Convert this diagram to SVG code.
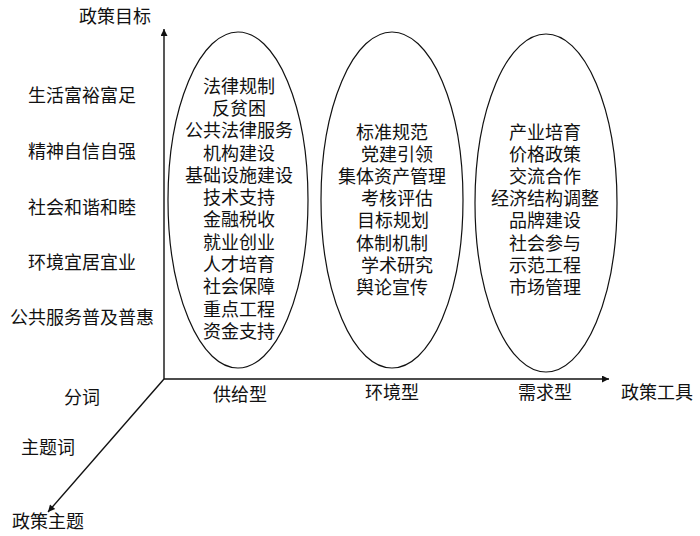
<svg xmlns="http://www.w3.org/2000/svg" width="700" height="536" viewBox="0 0 700 536">
<style>
text{font-family:"Liberation Serif","Noto Sans CJK SC",serif;font-size:18px;fill:#111;dominant-baseline:central}
.m{text-anchor:middle}
.s{text-anchor:start}
.ax{stroke:#111;stroke-width:1.4;fill:none}
.el{stroke:#111;stroke-width:1.2;fill:none}
</style>
<defs>
<marker id="ah" viewBox="0 0 10 10" refX="10" refY="5" markerWidth="9" markerHeight="7" markerUnits="userSpaceOnUse" orient="auto">
<path d="M0,0 L10,5 L0,10 z" fill="#111"/>
</marker>
</defs>
<rect width="700" height="536" fill="#fff"/>
<g id="axes">
<line class="ax" x1="164" y1="379" x2="164" y2="29" marker-end="url(#ah)"/>
<line class="ax" x1="164" y1="379" x2="609" y2="379" marker-end="url(#ah)"/>
<line class="ax" x1="164" y1="379" x2="48" y2="512" marker-end="url(#ah)"/>
</g>
<g id="axis-labels">
<text class="m" x="115" y="17">政策目标</text>
<text class="m" x="657" y="393">政策工具</text>
<text class="m" x="48" y="522">政策主题</text>
</g>
<g id="goals">
<text class="m" x="82" y="96">生活富裕富足</text>
<text class="m" x="82" y="152">精神自信自强</text>
<text class="m" x="82" y="208">社会和谐和睦</text>
<text class="m" x="82" y="263">环境宜居宜业</text>
<text class="m" x="82" y="318">公共服务普及普惠</text>
</g>
<g id="themes">
<text class="m" x="82" y="398">分词</text>
<text class="m" x="48" y="448">主题词</text>
</g>
<g id="supply">
<ellipse class="el" cx="238" cy="200" rx="70" ry="168"/>
<text class="m" x="239" y="87">法律规制</text>
<text class="m" x="239" y="109">反贫困</text>
<text class="m" x="239" y="131">公共法律服务</text>
<text class="m" x="239" y="154">机构建设</text>
<text class="m" x="239" y="176">基础设施建设</text>
<text class="m" x="239" y="198">技术支持</text>
<text class="m" x="239" y="220">金融税收</text>
<text class="m" x="239" y="243">就业创业</text>
<text class="m" x="239" y="265">人才培育</text>
<text class="m" x="239" y="287">社会保障</text>
<text class="m" x="239" y="310">重点工程</text>
<text class="m" x="239" y="332">资金支持</text>
<text class="m" x="240" y="395">供给型</text>
</g>
<g id="environment">
<ellipse class="el" cx="392" cy="200" rx="71" ry="168"/>
<text class="m" x="392" y="133">标准规范</text>
<text class="m" x="397" y="155">党建引领</text>
<text class="m" x="392" y="177">集体资产管理</text>
<text class="m" x="397" y="199">考核评估</text>
<text class="m" x="393" y="221">目标规划</text>
<text class="m" x="392" y="244">体制机制</text>
<text class="m" x="397" y="266">学术研究</text>
<text class="m" x="392" y="288">舆论宣传</text>
<text class="m" x="392" y="393">环境型</text>
</g>
<g id="demand">
<ellipse class="el" cx="546" cy="203" rx="71" ry="169"/>
<text class="m" x="545" y="133">产业培育</text>
<text class="m" x="545" y="155">价格政策</text>
<text class="m" x="545" y="177">交流合作</text>
<text class="m" x="545" y="199">经济结构调整</text>
<text class="m" x="545" y="221">品牌建设</text>
<text class="m" x="545" y="244">社会参与</text>
<text class="m" x="545" y="266">示范工程</text>
<text class="m" x="545" y="288">市场管理</text>
<text class="m" x="545" y="393">需求型</text>
</g>
</svg>
